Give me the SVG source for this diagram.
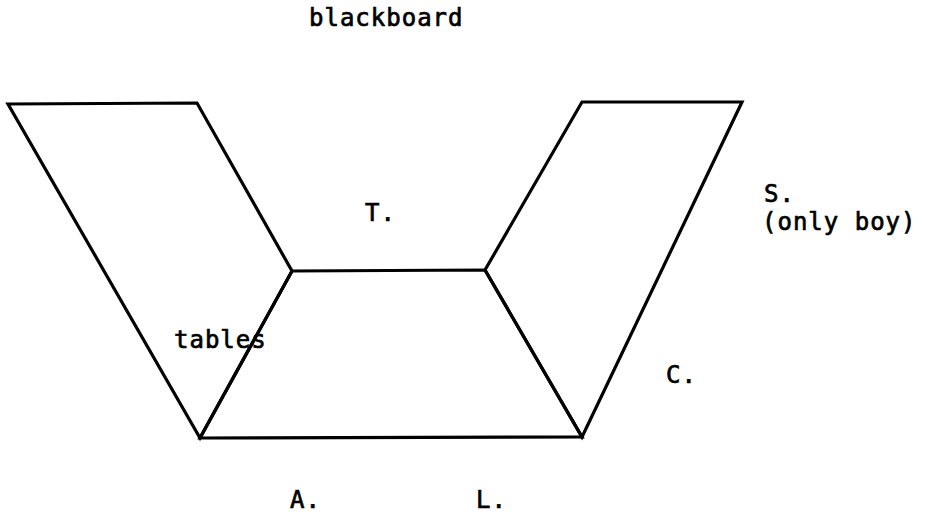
<svg xmlns="http://www.w3.org/2000/svg" width="926" height="517" viewBox="0 0 926 517">
<style>
.ln{fill:none;stroke:#000;stroke-width:3.2;stroke-linejoin:miter;stroke-linecap:round}
.t{font-family:"DejaVu Sans Mono","Liberation Mono",monospace;font-size:24px;letter-spacing:1px;fill:#000;stroke:#000;stroke-width:0.7}
</style>
<rect width="926" height="517" fill="#fff"/>
<g id="left-tables">
<polygon class="ln" points="8,104 197,103 292,271 200,438"/>
</g>
<g id="middle-table">
<polygon class="ln" points="292,271 485,270 582,437 200,438"/>
</g>
<g id="right-tables">
<polygon class="ln" points="582,102 742,102 582,437 485,270"/>
</g>
<g id="labels">
<text class="t" x="309" y="26">blackboard</text>
<text class="t" x="365" y="221">T.</text>
<text class="t" x="764" y="202">S.</text>
<text class="t" x="762" y="230">(only boy)</text>
<text class="t" x="174" y="348">tables</text>
<text class="t" x="666" y="383">C.</text>
<text class="t" x="290" y="508">A.</text>
<text class="t" x="476" y="508">L.</text>
</g>
</svg>
